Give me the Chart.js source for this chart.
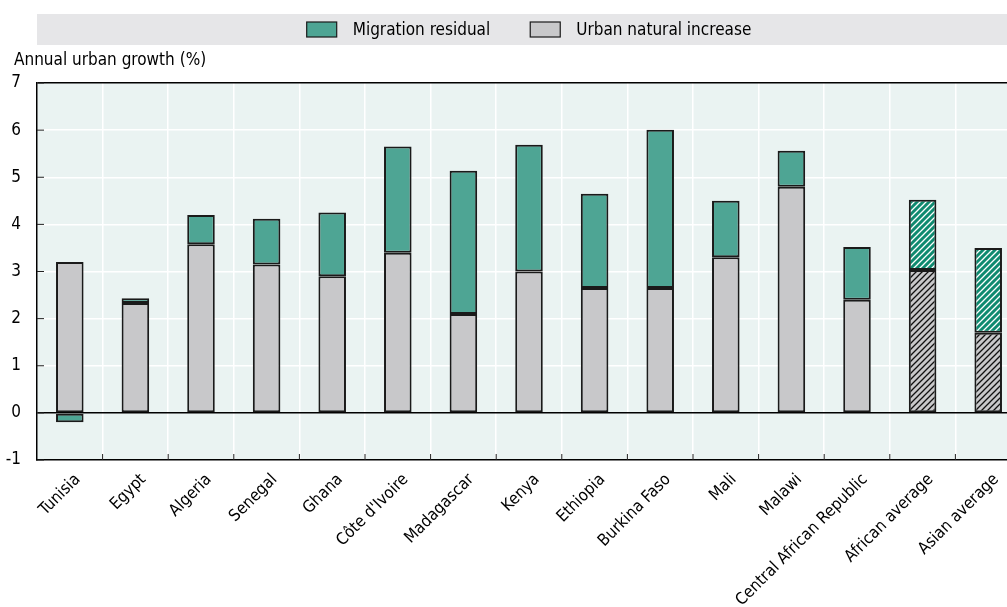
<!DOCTYPE html>
<html>
<head>
<meta charset="utf-8">
<script src="https://cdn.jsdelivr.net/npm/chart.js"></script>
<style>
  html, body { margin: 0; padding: 0; background: #fff; overflow: hidden; }
  #wrap { width: 1021px; height: 607px; }
</style>
</head>
<body>
<div id="wrap"><canvas id="chart" width="1021" height="607"></canvas></div>
<script>
"use strict";
// Données
const categories = ['Tunisia', 'Egypt', 'Algeria', 'Senegal', 'Ghana', "Côte d'Ivoire", 'Madagascar',
  'Kenya', 'Ethiopia', 'Burkina Faso', 'Mali', 'Malawi', 'Central African Republic',
  'African average', 'Asian average'];
const naturalIncrease = [3.2, 2.33, 3.58, 3.15, 2.9, 3.4, 2.1, 3.0, 2.65, 2.65, 3.3, 4.8, 2.4, 3.03, 1.7];
const migrationResidual = [-0.2, 0.1, 0.62, 0.97, 1.35, 2.25, 3.04, 2.69, 2.0, 3.36, 1.2, 0.76, 1.12, 1.49, 1.8];
const averageCategories = ['African average', 'Asian average'];
const seriesNames = ['Migration residual', 'Urban natural increase'];
const yAxisTitle = 'Annual urban growth (%)';
const yMin = -1, yMax = 7;

const FONT = "'Liberation Sans Narrow', 'Arial Narrow', 'DejaVu Sans Condensed', sans-serif";
const TEAL = '#4ea594';
const GREY = '#c8c8ca';

function hatch(bg, fg) {
  const c = document.createElement('canvas');
  c.width = 6; c.height = 6;
  const g = c.getContext('2d');
  g.fillStyle = bg;
  g.fillRect(0, 0, 6, 6);
  g.strokeStyle = fg;
  g.lineWidth = 1.3;
  g.beginPath();
  g.moveTo(0, 6); g.lineTo(6, 0);
  g.moveTo(-3, 3); g.lineTo(3, -3);
  g.moveTo(3, 9); g.lineTo(9, 3);
  g.stroke();
  return g.createPattern(c, 'repeat');
}
const tealHatch = hatch('#0e8a6f', '#ffffff');
const greyHatch = hatch('#c8c8ca', '#111111');
const isAvg = c => averageCategories.includes(c);

// fond de la zone de tracé, bandeau de légende, titre de l'axe Y
const backdrop = {
  id: 'backdrop',
  beforeDraw(chart) {
    const { ctx, chartArea } = chart;
    ctx.save();
    ctx.fillStyle = '#eaf3f2';
    ctx.fillRect(chartArea.left, chartArea.top, chartArea.right - chartArea.left, chartArea.bottom - chartArea.top);
    // légende
    ctx.fillStyle = '#e6e6e8';
    ctx.fillRect(chartArea.left, 14, chart.width - chartArea.left, 31);
    ctx.font = '17px ' + FONT;
    ctx.textBaseline = 'middle';
    const fills = [TEAL, GREY];
    const widths = seriesNames.map(t => 30 + 16 + ctx.measureText(t).width);
    const total = widths[0] + widths[1] + 40;
    let x = (chartArea.left + chart.width) / 2 - total / 2;
    seriesNames.forEach((t, i) => {
      ctx.fillStyle = fills[i];
      ctx.fillRect(x, 22, 30, 15);
      ctx.strokeStyle = '#1a1a1a';
      ctx.lineWidth = 1.2;
      ctx.strokeRect(x, 22, 30, 15);
      ctx.fillStyle = '#000';
      ctx.fillText(t, x + 46, 31);
      x += widths[i] + 40;
    });
    // titre de l'axe
    ctx.textAlign = 'left';
    ctx.fillText(yAxisTitle, 14, 61);
    ctx.restore();
  },
  afterDraw(chart) {
    const { ctx, chartArea, scales } = chart;
    ctx.save();
    ctx.strokeStyle = '#222';
    ctx.lineWidth = 1;
    ctx.beginPath();
    scales.y.ticks.forEach((t, i) => {
      const y = scales.y.getPixelForTick(i);
      ctx.moveTo(chartArea.left, y); ctx.lineTo(chartArea.left + 7, y);
    });
    for (let i = 1; i < categories.length; i++) {
      const x = (scales.x.getPixelForTick(i) + scales.x.getPixelForTick(i - 1)) / 2;
      ctx.moveTo(x, chartArea.bottom); ctx.lineTo(x, chartArea.bottom - 6);
    }
    ctx.stroke();
    ctx.restore();
  }
};

new Chart(document.getElementById('chart').getContext('2d'), {
  type: 'bar',
  data: {
    labels: categories,
    datasets: [{
      label: seriesNames[1],
      data: naturalIncrease,
      backgroundColor: categories.map(c => isAvg(c) ? greyHatch : GREY),
      borderColor: '#1a1a1a',
      borderWidth: 2,
      borderSkipped: false,
      barPercentage: 0.42,
      categoryPercentage: 1
    }, {
      label: seriesNames[0],
      data: migrationResidual,
      backgroundColor: categories.map(c => isAvg(c) ? tealHatch : TEAL),
      borderColor: '#1a1a1a',
      borderWidth: 2,
      borderSkipped: false,
      barPercentage: 0.42,
      categoryPercentage: 1
    }]
  },
  options: {
    responsive: false,
    animation: false,
    devicePixelRatio: 1,
    layout: { padding: { left: 0, top: 83, right: 0, bottom: 0 } },
    plugins: {
      legend: { display: false },
      tooltip: { enabled: false }
    },
    scales: {
      x: {
        stacked: true,
        grid: { color: '#ffffff', lineWidth: 1.5, drawTicks: false, offset: true },
        border: { color: '#000', width: 1.5 },
        ticks: {
          autoSkip: false, minRotation: 45, maxRotation: 45,
          color: '#000', font: { family: FONT, size: 16.5 }, padding: 10, labelOffset: 8
        },
        afterFit(scale) { scale.height = 147; }
      },
      y: {
        stacked: true,
        min: yMin, max: yMax,
        grid: {
          color: ctx => (ctx.tick && (ctx.tick.value === 0 || ctx.tick.value === yMax)) ? '#000' : '#ffffff',
          lineWidth: 1.5,
          drawTicks: false
        },
        border: { color: '#000', width: 1.5 },
        ticks: { stepSize: 1, color: '#000', font: { family: FONT, size: 17 }, padding: 16 },
        afterFit(scale) { scale.width = 37; }
      }
    }
  },
  plugins: [backdrop]
});
</script>
</body>
</html>
